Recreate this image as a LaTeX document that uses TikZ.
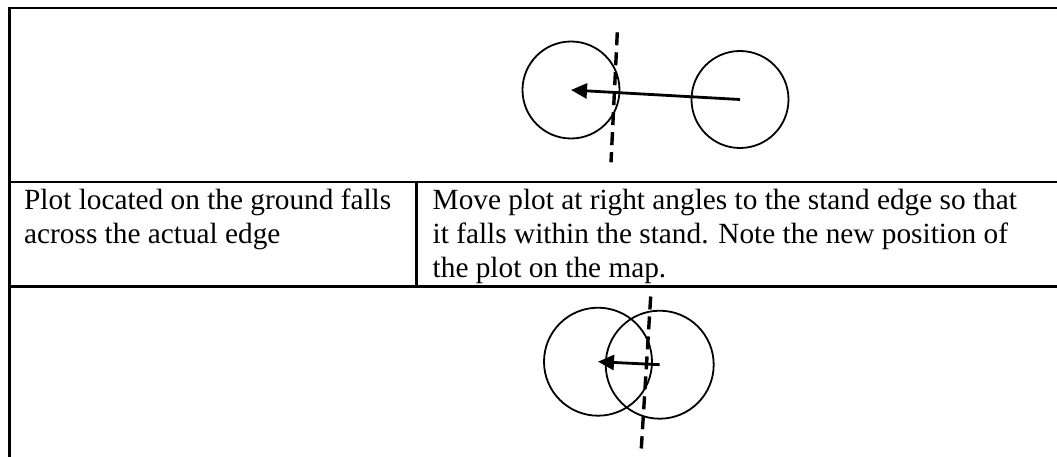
\documentclass[tikz,border=0pt]{standalone}
\usepackage{fontspec}
\setmainfont{Liberation Serif}
\usetikzlibrary{arrows.meta}
\tikzset{
  rule/.style={line width=2.8pt, line cap=rect},
  plot/.style={circle, draw, line width=1.8pt, inner sep=0pt},
  edgeline/.style={line width=3.4pt, dash pattern=on 13pt off 7pt},
  move/.style={line width=2.8pt, -{Triangle[length=16pt,width=15pt]}},
  celltext/.style={anchor=base west, align=left, inner sep=0pt,
    font=\fontsize{29.3}{33.7}\selectfont}
}
\begin{document}
\begin{tikzpicture}[x=1pt,y=-1pt]
\useasboundingbox (0,0) rectangle (1057,457);
% table rules
\draw[rule] (9.2,470) -- (9.2,8) -- (1070,8);
\draw[rule] (9.2,182) -- (1070,182);
\draw[rule] (9.2,286.5) -- (1070,286.5);
\draw[rule] (416.5,182) -- (416.5,286.5);
% top figure
\node[plot, minimum size=97pt] (a1) at (571,90) {};
\node[plot, minimum size=97pt] (a2) at (740,99.5) {};
\coordinate (e1) at (617.3,32.3);
\coordinate (e2) at (611,162.3);
\draw[edgeline] (e1) -- (e2);
\draw[move] (a2.center) -- (a1.center);
% text row (base anchor = baseline of the last line)
\node[celltext] (t1) at (24,243.5) {Plot located on the ground falls\\across the actual edge};
\node[celltext] (t2) at (432.5,277) {Move plot at right angles to the stand edge so that\\it falls within the stand. Note the new position of\\the plot on the map.};
% bottom figure
\node[plot, minimum size=108pt] (b1) at (598,361.7) {};
\node[plot, minimum size=108pt] (b2) at (659.7,364.7) {};
\coordinate (f1) at (650.7,296.5);
\coordinate (f2) at (641.3,448.5);
\draw[edgeline] (f1) -- (f2);
\draw[move] (b2.center) -- (b1.center);
\end{tikzpicture}
\end{document}
